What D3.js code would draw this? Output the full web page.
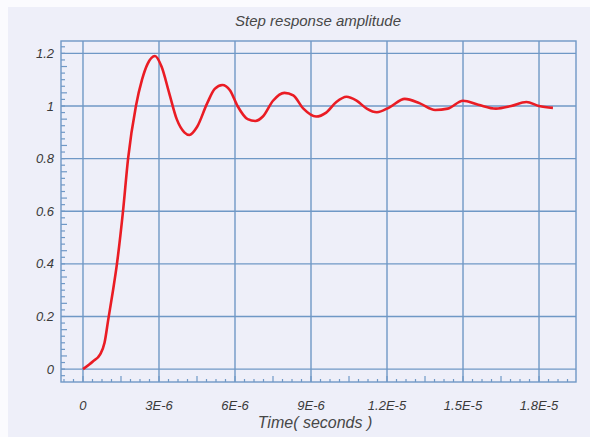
<!DOCTYPE html>
<html>
<head>
<meta charset="utf-8">
<script src="https://cdn.jsdelivr.net/npm/d3@7"></script>
<style>
  body { margin: 0; background: #fbfbfe; }
  svg { display: block; }
  text { font-family: "Liberation Sans", Arial, sans-serif; font-style: italic; fill: #3a3a3a; }
</style>
</head>
<body>
<svg id="chart"></svg>
<script>
// time in microseconds, amplitude
const timeUs = [0, 0.4, 0.67, 0.85, 1.0, 1.17, 1.34, 1.58, 1.78, 2.09, 2.33, 2.55, 2.84,
  3.1, 3.4, 3.7, 4.0, 4.2, 4.5, 4.9, 5.2, 5.5, 5.8, 6.1, 6.5, 6.8, 7.1, 7.5, 7.95, 8.3, 8.7, 9.2, 9.6,
  10.0, 10.4, 10.8, 11.2, 11.6, 12.1, 12.7, 13.3, 13.9, 14.4, 15.0, 15.6, 16.3, 16.9, 17.5, 18.0, 18.55]
const amplitude = [0, 0.03, 0.055, 0.1, 0.19, 0.29, 0.4, 0.6, 0.8, 1.0, 1.1, 1.16, 1.19,
  1.15, 1.05, 0.95, 0.9, 0.89, 0.92, 1.01, 1.065, 1.08, 1.06, 1.0, 0.95, 0.943, 0.96, 1.02, 1.05, 1.04, 0.99, 0.96, 0.975,
  1.015, 1.035, 1.02, 0.99, 0.976, 0.995, 1.027, 1.01, 0.985, 0.99, 1.02, 1.005, 0.99, 1.0, 1.015, 1.0, 0.993]

const xTicks = [0, 3e-6, 6e-6, 9e-6, 1.2e-5, 1.5e-5, 1.8e-5]
const xTickLabels = ['0', '3E-6', '6E-6', '9E-6', '1.2E-5', '1.5E-5', '1.8E-5']
const yTicks = [0, 0.2, 0.4, 0.6, 0.8, 1, 1.2]
const yTickLabels = ['0', '0.2', '0.4', '0.6', '0.8', '1', '1.2']

const width = 590, height = 437
const plot = {left: 61, right: 576, top: 41, bottom: 382}

const svg = d3.select('#chart').attr('width', width).attr('height', height)

svg.append('rect')
  .attr('x', 8).attr('y', 7)
  .attr('width', width - 8).attr('height', height - 7)
  .attr('fill', '#eeeff9')

const x = d3.scaleLinear().domain([-0.868e-6, 19.46e-6]).range([plot.left, plot.right])
const y = d3.scaleLinear().domain([-0.049, 1.247]).range([plot.bottom, plot.top])

const gridColor = '#6f98c6'

// grid
svg.append('g').selectAll('line')
  .data(xTicks).enter().append('line')
  .attr('x1', d => x(d)).attr('x2', d => x(d))
  .attr('y1', plot.top).attr('y2', plot.bottom)
  .attr('stroke', gridColor).attr('stroke-width', 1.4)

svg.append('g').selectAll('line')
  .data(yTicks).enter().append('line')
  .attr('x1', plot.left).attr('x2', plot.right)
  .attr('y1', d => y(d)).attr('y2', d => y(d))
  .attr('stroke', gridColor).attr('stroke-width', 1.4)

svg.append('rect')
  .attr('x', plot.left).attr('y', plot.top)
  .attr('width', plot.right - plot.left).attr('height', plot.bottom - plot.top)
  .attr('fill', 'none').attr('stroke', gridColor).attr('stroke-width', 1.4)

// minor ticks on the bottom edge (8 per major step)
const xMinor = d3.range(-2, 52).map(i => i * 0.375e-6).filter(d => x(d) >= plot.left && x(d) <= plot.right + 0.5)
svg.append('g').selectAll('line')
  .data(xMinor).enter().append('line')
  .attr('x1', d => x(d)).attr('x2', d => x(d))
  .attr('y1', plot.bottom)
  .attr('y2', (d, i) => plot.bottom - ((i + 2) % 4 === 0 ? 6 : 3))
  .attr('stroke', gridColor).attr('stroke-width', 1.2)

// minor ticks on the left edge
const yMinor = d3.range(-1, 50).map(i => i * 0.025).filter(d => y(d) >= plot.top && y(d) <= plot.bottom)
svg.append('g').selectAll('line')
  .data(yMinor).enter().append('line')
  .attr('x1', plot.left)
  .attr('x2', (d, i) => plot.left + ((i + 1) % 4 === 0 ? 6 : 4))
  .attr('y1', d => y(d)).attr('y2', d => y(d))
  .attr('stroke', gridColor).attr('stroke-width', 1.2)

// tick labels
svg.append('g').selectAll('text')
  .data(xTicks).enter().append('text')
  .attr('x', d => x(d)).attr('y', 410)
  .attr('text-anchor', 'middle')
  .style('font-size', '13px')
  .text((d, i) => xTickLabels[i])

svg.append('g').selectAll('text')
  .data(yTicks).enter().append('text')
  .attr('x', 54).attr('y', d => y(d)).attr('dy', '0.35em')
  .attr('text-anchor', 'end')
  .style('font-size', '13px')
  .text((d, i) => yTickLabels[i])

// titles
svg.append('text')
  .attr('x', 318).attr('y', 26)
  .attr('text-anchor', 'middle')
  .style('font-size', '15px').style('fill', '#474747')
  .text('Step response amplitude')

svg.append('text')
  .attr('x', 315).attr('y', 428)
  .attr('text-anchor', 'middle')
  .style('font-size', '16px').style('fill', '#474747')
  .text('Time( seconds )')

// response curve
const points = timeUs.map((t, i) => [t * 1e-6, amplitude[i]])
const line = d3.line()
  .x(d => x(d[0]))
  .y(d => y(d[1]))
  .curve(d3.curveMonotoneX)

svg.append('path')
  .datum(points)
  .attr('d', line)
  .attr('fill', 'none')
  .attr('stroke', '#ea1c24')
  .attr('stroke-width', 2.6)
  .attr('stroke-linejoin', 'round')
</script>
</body>
</html>
